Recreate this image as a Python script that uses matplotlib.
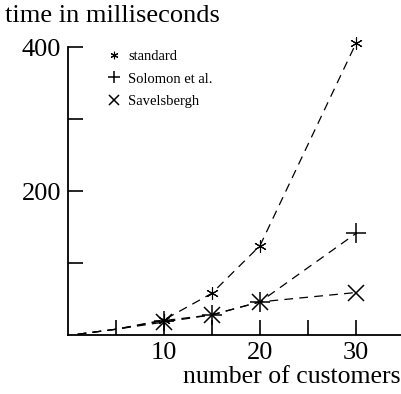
import matplotlib.pyplot as plt

plt.rcParams['font.family'] = ['Liberation Serif', 'DejaVu Serif']

customers = [1, 5, 10, 15, 20, 30]
standard = [1, 8, 21, 58, 124, 405]
solomon = [1, 8, 20, 28, 46, 141]
savelsbergh = [1, 8, 18, 28, 46, 59]

xticks = [5, 10, 15, 20, 25, 30]
xticklabels = ['', '10', '', '20', '', '30']
yticks = [100, 200, 300, 400]
yticklabels = ['', '200', '', '400']

fig = plt.figure(figsize=(4.02, 3.94), dpi=100)
ax = fig.add_axes([68 / 402, 59 / 394, 334 / 402, 288 / 394])

asterisk = (6, 2, 0)
dash = (0, (7, 5))
ax.plot(customers, standard, color='black', linestyle=dash, linewidth=0.9,
        marker=asterisk, markersize=9, markeredgewidth=0.8, label='standard',
        clip_on=False)
ax.plot(customers, solomon, color='black', linestyle=dash, linewidth=0.9,
        marker='+', markersize=14, markeredgewidth=1.1, label='Solomon et al.',
        clip_on=False)
ax.plot(customers, savelsbergh, color='black', linestyle=dash, linewidth=0.9,
        marker='x', markersize=12, markeredgewidth=1.1, label='Savelsbergh',
        clip_on=False)
# markers only at the measured sizes 10..30
for line in ax.lines:
    line.set_markevery(list(range(2, len(customers))))

ax.set_xlim(0, 34.8)
ax.set_ylim(0, 400)
ax.set_xticks(xticks)
ax.set_xticklabels(xticklabels, fontsize=19)
ax.set_yticks(yticks)
ax.set_yticklabels(yticklabels, fontsize=19)
ax.tick_params(axis='both', direction='in', length=11, width=1.2, pad=5)

for side in ['top', 'right']:
    ax.spines[side].set_visible(False)
ax.spines['left'].set_linewidth(1.3)
ax.spines['bottom'].set_linewidth(1.3)

fig.text(5 / 402, 1 - 16 / 394, 'time in milliseconds', fontsize=19,
         ha='left', va='center')
fig.text(401 / 402, 1 - 377 / 394, 'number of customers', fontsize=18.5,
         ha='right', va='center')

leg = ax.legend(loc='upper left', bbox_to_anchor=(0.08, 1.035), frameon=False,
                fontsize=10.5, handlelength=0.8, handletextpad=0.6,
                labelspacing=0.62, markerscale=0.6)
for h in leg.legend_handles:
    h.set_linestyle('none')

fig.savefig('out.png', dpi=100)
